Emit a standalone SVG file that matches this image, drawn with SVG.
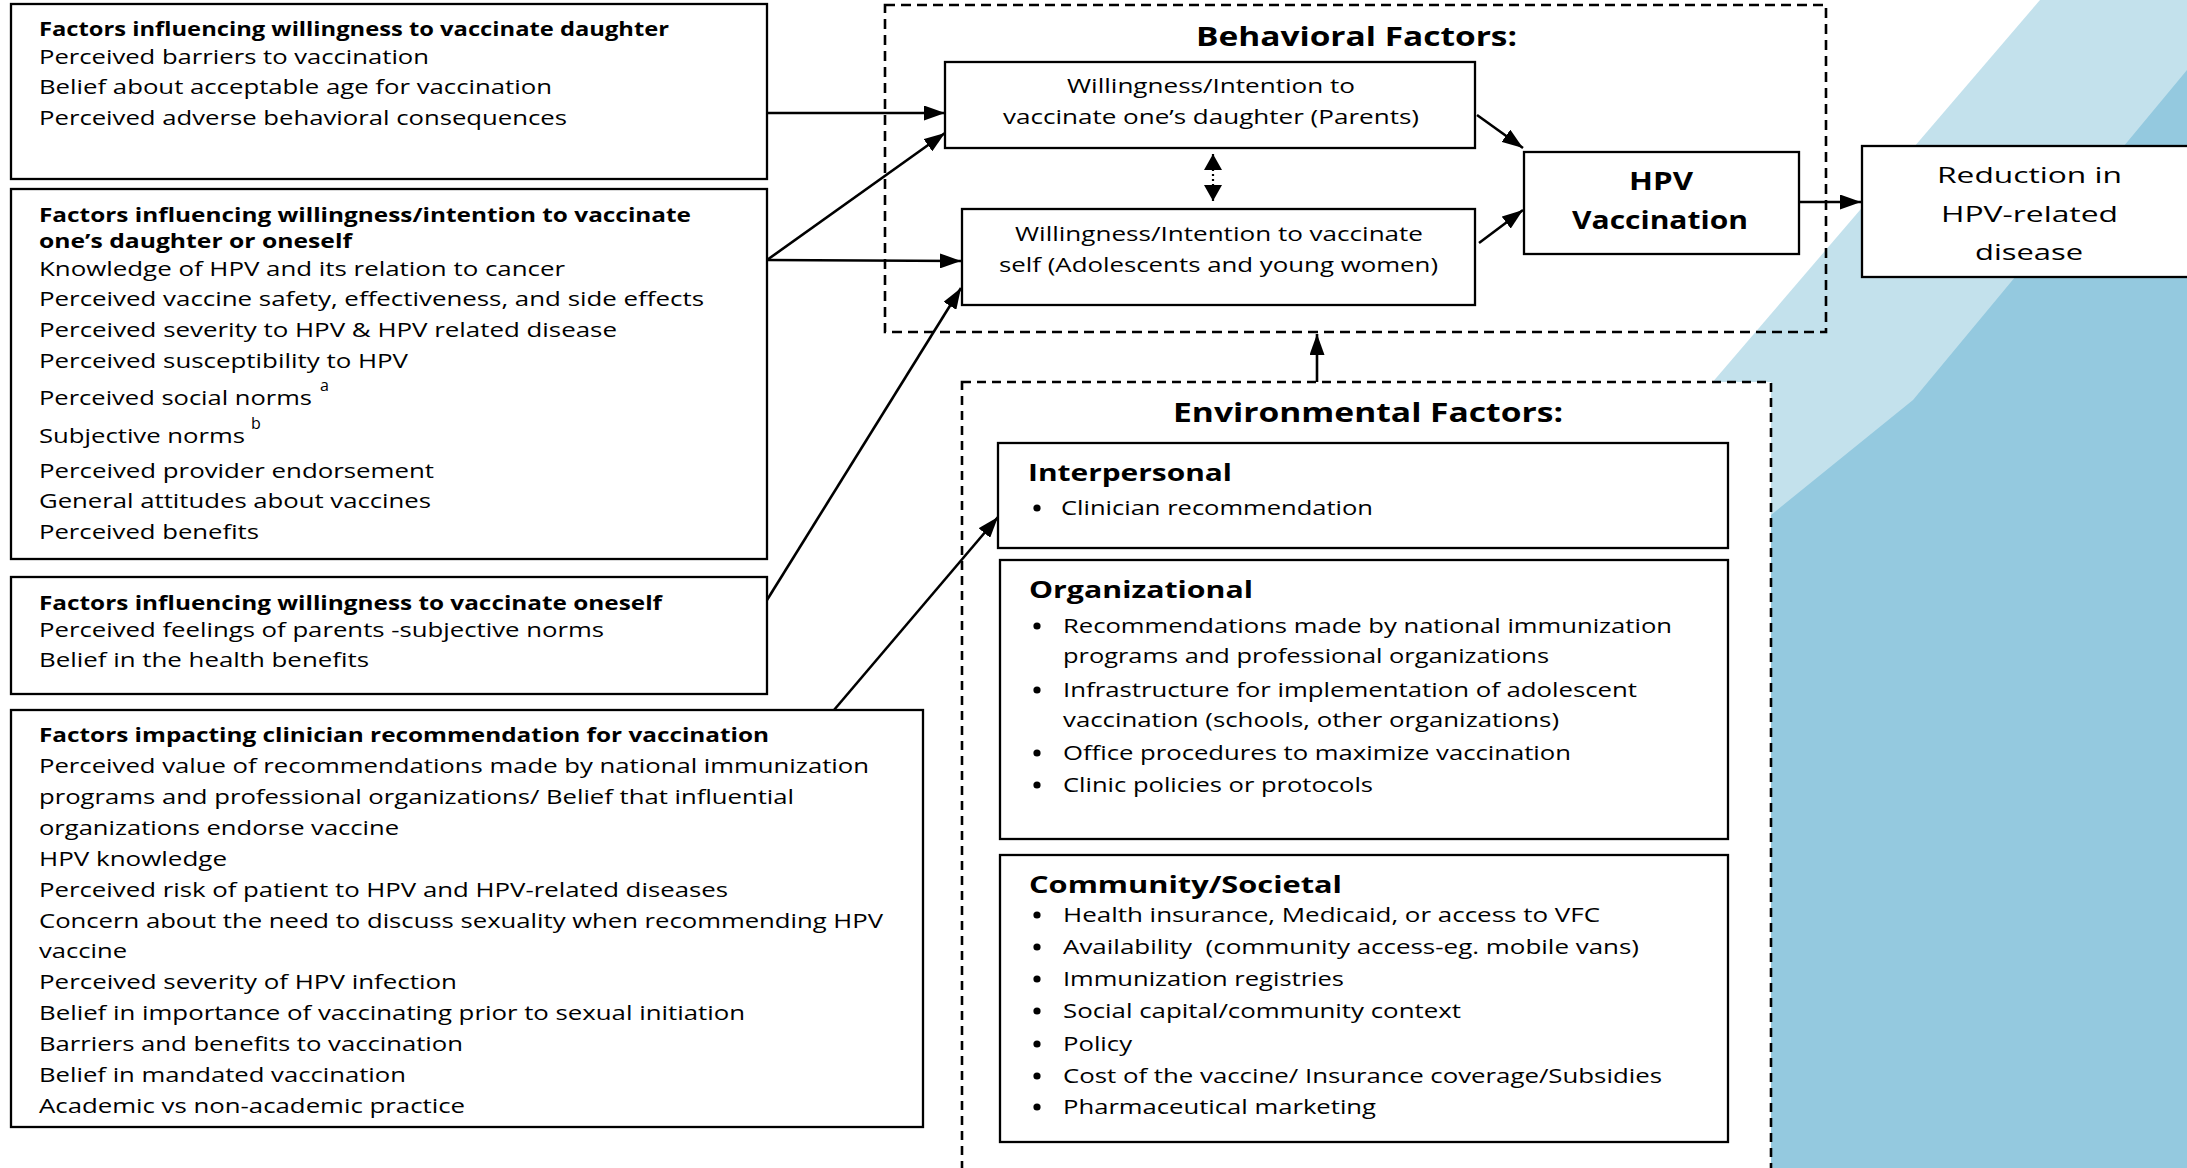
<svg xmlns="http://www.w3.org/2000/svg" width="2187" height="1168" viewBox="0 0 2187 1168">
  <style>
    .box { fill: #ffffff; stroke: #000000; stroke-width: 2.3; }
    .dash { fill: none; stroke: #000000; stroke-width: 2.6; stroke-dasharray: 10 6; }
    .envdash { fill: #ffffff; stroke: #000000; stroke-width: 2.6; stroke-dasharray: 9 6; }
    text { font-family: "Open Sans", Lato, "Liberation Sans", sans-serif; fill: #000000; }
    .t { font-size: 20px; }
    .b { font-size: 20px; font-weight: bold; }
    .sm { font-size: 19.5px; }
    .h { font-size: 24px; font-weight: bold; }
    .ttl { font-size: 27px; font-weight: bold; }
    .big { font-size: 22.5px; }
    .bigb { font-size: 24.5px; font-weight: bold; }
    .sup { font-size: 16px; }
    .conn { stroke: #000000; stroke-width: 2.6; fill: none; marker-end: url(#arrow); }
    .bullet { fill: #000000; }
  </style>
  <defs>
    <marker id="arrow" viewBox="0 0 21 15" refX="21" refY="7.5" markerWidth="21" markerHeight="15" markerUnits="userSpaceOnUse" orient="auto">
      <path d="M0,0 L21,7.5 L0,15 z" fill="#000000"/>
    </marker>
    <marker id="arrowSmall" viewBox="0 0 16 18" refX="16" refY="9" markerWidth="16" markerHeight="18" markerUnits="userSpaceOnUse" orient="auto-start-reverse">
      <path d="M0,0 L16,9 L0,18 z" fill="#000000"/>
    </marker>
  </defs>

  <!-- page background with blue corner decoration -->
  <rect x="0" y="0" width="2187" height="1168" fill="#ffffff"/>
  <polygon points="2040,0 2187,0 2187,1168 1039,1168" fill="#c3e1ec"/>
  <polygon points="2187,70 1913,400 1771,515 1700,575 1700,1168 2187,1168" fill="#94c9df"/>

  <!-- left-hand factor boxes -->
  <g id="daughter-factors">
    <rect class="box" x="11" y="4" width="756" height="175"/>
    <text class="b" x="39" y="36" textLength="630" lengthAdjust="spacingAndGlyphs">Factors influencing willingness to vaccinate daughter</text>
    <text class="t" x="39" y="64" textLength="390" lengthAdjust="spacingAndGlyphs">Perceived barriers to vaccination</text>
    <text class="t" x="39" y="94" textLength="513" lengthAdjust="spacingAndGlyphs">Belief about acceptable age for vaccination</text>
    <text class="t" x="39" y="125" textLength="528" lengthAdjust="spacingAndGlyphs">Perceived adverse behavioral consequences</text>
  </g>

  <g id="daughter-or-self-factors">
    <rect class="box" x="11" y="189" width="756" height="370"/>
    <text class="b" x="39" y="222" textLength="652" lengthAdjust="spacingAndGlyphs">Factors influencing willingness/intention to vaccinate</text>
    <text class="b" x="39" y="248" textLength="313" lengthAdjust="spacingAndGlyphs">one’s daughter or oneself</text>
    <text class="t" x="39" y="276" textLength="526" lengthAdjust="spacingAndGlyphs">Knowledge of HPV and its relation to cancer</text>
    <text class="t" x="39" y="306" textLength="665" lengthAdjust="spacingAndGlyphs">Perceived vaccine safety, effectiveness, and side effects</text>
    <text class="t" x="39" y="337" textLength="578" lengthAdjust="spacingAndGlyphs">Perceived severity to HPV &amp; HPV related disease</text>
    <text class="t" x="39" y="368" textLength="369" lengthAdjust="spacingAndGlyphs">Perceived susceptibility to HPV</text>
    <text class="t" x="39" y="405" textLength="273" lengthAdjust="spacingAndGlyphs">Perceived social norms</text>
    <text class="sup" x="320" y="391">a</text>
    <text class="t" x="39" y="443" textLength="206" lengthAdjust="spacingAndGlyphs">Subjective norms</text>
    <text class="sup" x="251" y="429">b</text>
    <text class="t" x="39" y="478" textLength="395" lengthAdjust="spacingAndGlyphs">Perceived provider endorsement</text>
    <text class="t" x="39" y="508" textLength="392" lengthAdjust="spacingAndGlyphs">General attitudes about vaccines</text>
    <text class="t" x="39" y="539" textLength="220" lengthAdjust="spacingAndGlyphs">Perceived benefits</text>
  </g>

  <g id="self-factors">
    <rect class="box" x="11" y="577" width="756" height="117"/>
    <text class="b" x="39" y="610" textLength="623" lengthAdjust="spacingAndGlyphs">Factors influencing willingness to vaccinate oneself</text>
    <text class="t" x="39" y="637" textLength="565" lengthAdjust="spacingAndGlyphs">Perceived feelings of parents -subjective norms</text>
    <text class="t" x="39" y="667" textLength="330" lengthAdjust="spacingAndGlyphs">Belief in the health benefits</text>
  </g>

  <g id="clinician-factors">
    <rect class="box" x="11" y="710" width="912" height="417"/>
    <text class="b" x="39" y="742" textLength="730" lengthAdjust="spacingAndGlyphs">Factors impacting clinician recommendation for vaccination</text>
    <text class="t" x="39" y="773" textLength="830" lengthAdjust="spacingAndGlyphs">Perceived value of recommendations made by national immunization</text>
    <text class="t" x="39" y="804" textLength="755" lengthAdjust="spacingAndGlyphs">programs and professional organizations/ Belief that influential</text>
    <text class="t" x="39" y="835" textLength="360" lengthAdjust="spacingAndGlyphs">organizations endorse vaccine</text>
    <text class="t" x="39" y="866" textLength="188" lengthAdjust="spacingAndGlyphs">HPV knowledge</text>
    <text class="t" x="39" y="897" textLength="689" lengthAdjust="spacingAndGlyphs">Perceived risk of patient to HPV and HPV-related diseases</text>
    <text class="t" x="39" y="928" textLength="844" lengthAdjust="spacingAndGlyphs">Concern about the need to discuss sexuality when recommending HPV</text>
    <text class="t" x="39" y="958" textLength="88" lengthAdjust="spacingAndGlyphs">vaccine</text>
    <text class="t" x="39" y="989" textLength="418" lengthAdjust="spacingAndGlyphs">Perceived severity of HPV infection</text>
    <text class="t" x="39" y="1020" textLength="706" lengthAdjust="spacingAndGlyphs">Belief in importance of vaccinating prior to sexual initiation</text>
    <text class="t" x="39" y="1051" textLength="424" lengthAdjust="spacingAndGlyphs">Barriers and benefits to vaccination</text>
    <text class="t" x="39" y="1082" textLength="367" lengthAdjust="spacingAndGlyphs">Belief in mandated vaccination</text>
    <text class="t" x="39" y="1113" textLength="426" lengthAdjust="spacingAndGlyphs">Academic vs non-academic practice</text>
  </g>

  <!-- behavioral factors frame -->
  <g id="behavioral-factors">
    <rect class="dash" x="885" y="5" width="941" height="327"/>
    <text class="ttl" x="1196" y="46" textLength="321" lengthAdjust="spacingAndGlyphs">Behavioral Factors:</text>
  </g>

  <g id="intent-parents">
    <rect class="box" x="945" y="62" width="530" height="86"/>
    <text class="sm" x="1067" y="93" textLength="288" lengthAdjust="spacingAndGlyphs">Willingness/Intention to</text>
    <text class="sm" x="1003" y="124" textLength="416" lengthAdjust="spacingAndGlyphs">vaccinate one’s daughter (Parents)</text>
  </g>

  <g id="intent-self">
    <rect class="box" x="962" y="209" width="513" height="96"/>
    <text class="sm" x="1015" y="241" textLength="408" lengthAdjust="spacingAndGlyphs">Willingness/Intention to vaccinate</text>
    <text class="sm" x="999" y="272" textLength="439" lengthAdjust="spacingAndGlyphs">self (Adolescents and young women)</text>
  </g>

  <g id="hpv-vaccination">
    <rect class="box" x="1524" y="152" width="275" height="102"/>
    <text class="bigb" x="1629" y="190" textLength="64" lengthAdjust="spacingAndGlyphs">HPV</text>
    <text class="bigb" x="1572" y="229" textLength="176" lengthAdjust="spacingAndGlyphs">Vaccination</text>
  </g>

  <g id="disease-reduction">
    <rect class="box" x="1862" y="146" width="340" height="131"/>
    <text class="big" x="1937" y="183" textLength="185" lengthAdjust="spacingAndGlyphs">Reduction in</text>
    <text class="big" x="1941" y="222" textLength="177" lengthAdjust="spacingAndGlyphs">HPV-related</text>
    <text class="big" x="1975" y="260" textLength="108" lengthAdjust="spacingAndGlyphs">disease</text>
  </g>

  <!-- environmental factors frame -->
  <g id="environmental-factors">
    <rect class="envdash" x="962" y="382" width="809" height="830"/>
    <text class="ttl" x="1173" y="422" textLength="390" lengthAdjust="spacingAndGlyphs">Environmental Factors:</text>
  </g>

  <g id="interpersonal">
    <rect class="box" x="998" y="443" width="730" height="105"/>
    <text class="h" x="1028" y="481" textLength="204" lengthAdjust="spacingAndGlyphs">Interpersonal</text>
    <circle class="bullet" cx="1037" cy="508" r="3.6"/>
    <text class="t" x="1061" y="515" textLength="312" lengthAdjust="spacingAndGlyphs">Clinician recommendation</text>
  </g>

  <g id="organizational">
    <rect class="box" x="1000" y="560" width="728" height="279"/>
    <text class="h" x="1029" y="598" textLength="224" lengthAdjust="spacingAndGlyphs">Organizational</text>
    <circle class="bullet" cx="1037" cy="626" r="3.6"/>
    <text class="t" x="1063" y="633" textLength="609" lengthAdjust="spacingAndGlyphs">Recommendations made by national immunization</text>
    <text class="t" x="1063" y="663" textLength="486" lengthAdjust="spacingAndGlyphs">programs and professional organizations</text>
    <circle class="bullet" cx="1037" cy="690" r="3.6"/>
    <text class="t" x="1063" y="697" textLength="574" lengthAdjust="spacingAndGlyphs">Infrastructure for implementation of adolescent</text>
    <text class="t" x="1063" y="727" textLength="496" lengthAdjust="spacingAndGlyphs">vaccination (schools, other organizations)</text>
    <circle class="bullet" cx="1037" cy="753" r="3.6"/>
    <text class="t" x="1063" y="760" textLength="508" lengthAdjust="spacingAndGlyphs">Office procedures to maximize vaccination</text>
    <circle class="bullet" cx="1037" cy="785" r="3.6"/>
    <text class="t" x="1063" y="792" textLength="310" lengthAdjust="spacingAndGlyphs">Clinic policies or protocols</text>
  </g>

  <g id="community-societal">
    <rect class="box" x="1000" y="855" width="728" height="287"/>
    <text class="h" x="1029" y="893" textLength="313" lengthAdjust="spacingAndGlyphs">Community/Societal</text>
    <circle class="bullet" cx="1037" cy="915" r="3.6"/>
    <text class="t" x="1063" y="922" textLength="537" lengthAdjust="spacingAndGlyphs">Health insurance, Medicaid, or access to VFC</text>
    <circle class="bullet" cx="1037" cy="947" r="3.6"/>
    <text class="t" x="1063" y="954" textLength="576" lengthAdjust="spacingAndGlyphs" style="white-space:pre">Availability  (community access-eg. mobile vans)</text>
    <circle class="bullet" cx="1037" cy="979" r="3.6"/>
    <text class="t" x="1063" y="986" textLength="281" lengthAdjust="spacingAndGlyphs">Immunization registries</text>
    <circle class="bullet" cx="1037" cy="1011" r="3.6"/>
    <text class="t" x="1063" y="1018" textLength="398" lengthAdjust="spacingAndGlyphs">Social capital/community context</text>
    <circle class="bullet" cx="1037" cy="1044" r="3.6"/>
    <text class="t" x="1063" y="1051" textLength="69" lengthAdjust="spacingAndGlyphs">Policy</text>
    <circle class="bullet" cx="1037" cy="1076" r="3.6"/>
    <text class="t" x="1063" y="1083" textLength="599" lengthAdjust="spacingAndGlyphs">Cost of the vaccine/ Insurance coverage/Subsidies</text>
    <circle class="bullet" cx="1037" cy="1107" r="3.6"/>
    <text class="t" x="1063" y="1114" textLength="313" lengthAdjust="spacingAndGlyphs">Pharmaceutical marketing</text>
  </g>

  <!-- connectors -->
  <g id="connectors">
    <line class="conn" x1="767" y1="113" x2="945" y2="113"/>
    <line class="conn" x1="767" y1="260" x2="945" y2="133"/>
    <line class="conn" x1="767" y1="260" x2="961" y2="261"/>
    <line class="conn" x1="767" y1="600" x2="961" y2="288"/>
    <line class="conn" x1="834" y1="710" x2="998" y2="517"/>
    <line class="conn" x1="1477" y1="115" x2="1523" y2="148"/>
    <line class="conn" x1="1479" y1="243" x2="1523" y2="210"/>
    <line class="conn" x1="1799" y1="202" x2="1861" y2="202"/>
    <line class="conn" x1="1317" y1="382" x2="1317" y2="334"/>
    <line x1="1213" y1="154" x2="1213" y2="201" stroke="#000000" stroke-width="2.2" stroke-dasharray="2 3" marker-start="url(#arrowSmall)" marker-end="url(#arrowSmall)"/>
  </g>
</svg>
